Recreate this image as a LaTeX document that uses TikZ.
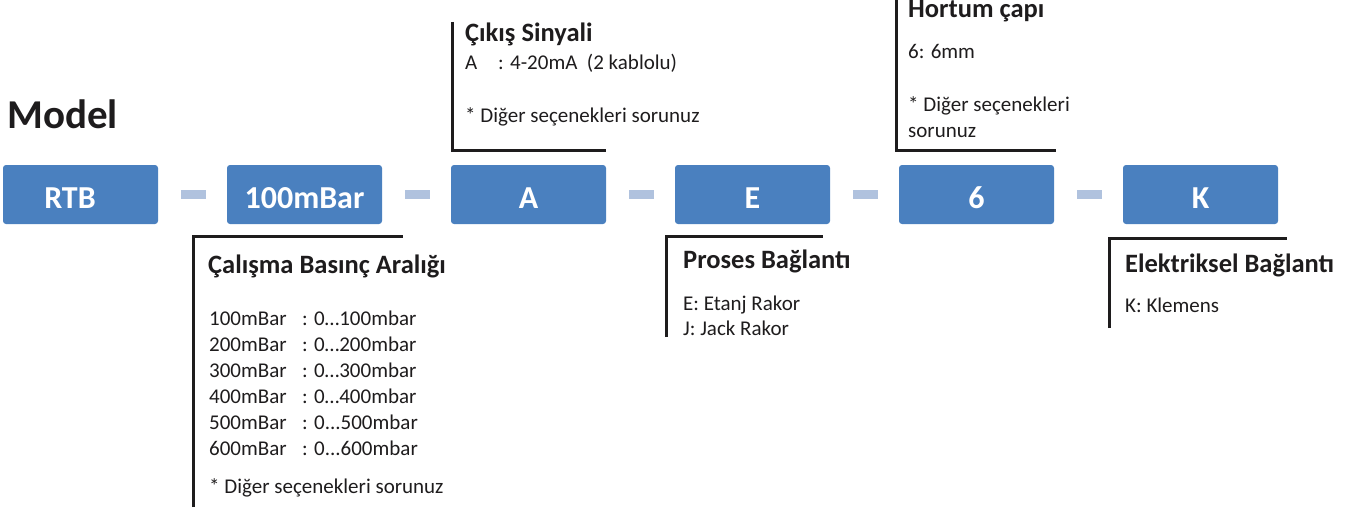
\documentclass[tikz,border=0pt]{standalone}
\usepackage{fontspec}
\setmainfont{Carlito}
\definecolor{boxblue}{RGB}{74,128,191}
\definecolor{dashblue}{RGB}{176,194,222}
\definecolor{ink}{RGB}{30,28,29}
\tikzset{
  box/.style={draw=none, fill=boxblue, rounded corners=3pt, minimum width=155pt, minimum height=59pt, inner sep=0pt},
  boxtext/.style={text=white, font=\fontsize{32}{38}\selectfont\bfseries, inner sep=0pt, anchor=base},
  sep/.style={draw=none, fill=dashblue, minimum width=25pt, minimum height=9pt, inner sep=0pt},
  head/.style={text=ink, font=\fontsize{26.5}{32}\selectfont\bfseries, inner sep=0pt, anchor=base west},
  body/.style={text=ink, font=\fontsize{21}{26}\selectfont, inner sep=0pt, anchor=base west},
  bracket/.style={draw=ink, line width=3pt, line join=miter},
}
\begin{document}
\begin{tikzpicture}[x=1pt,y=-1pt]
\useasboundingbox (0,0) rectangle (1362,511);

% title
\node[text=ink, font=\fontsize{41}{49}\selectfont\bfseries, inner sep=0pt, anchor=base west] (model) at (7,128) {Model};

% boxes
\foreach \i/\x in {1/80.5,2/304.5,3/528.5,4/752.5,5/976.5,6/1200.5}
  \node[box] (b\i) at (\x,194.5) {};
\node[boxtext] (t1) at (70,208) {RTB};
\node[boxtext] (t2) at (304.5,208) {100mBar};
\node[boxtext] (t3) at (528.5,208) {A};
\node[boxtext] (t4) at (752.5,208) {E};
\node[boxtext] (t5) at (976.5,208) {6};
\node[boxtext] (t6) at (1200.5,208) {K};

% separators
\foreach \i/\x in {1/193.5,2/417.5,3/641.5,4/865.5,5/1089.5}
  \node[sep] (d\i) at (\x,194.5) {};

% brackets
\draw[bracket] (452,22) -- (452,150) -- (606,150);
\draw[bracket] (896,-3) -- (896,150) -- (1056,150);
\draw[bracket] (193,507) -- (193,236) -- (403,236);
\draw[bracket] (666,337) -- (666,236) -- (823,236);
\draw[bracket] (1109,328) -- (1109,238) -- (1287,238);

% Çıkış Sinyali
\node[head] (h1) at (465,42) {Çıkış Sinyali};
\node[body] (h1a) at (465,70) {\makebox[33pt][l]{A}: 4-20mA\ \ (2 kablolu)};
\node[body] (h1b) at (465,122) {* Diğer seçenekleri sorunuz};

% Hortum çapı
\node[head] (h2) at (908,18) {Hortum çapı};
\node[body] (h2a) at (908,59) {6: 6mm};
\node[body] (h2b) at (908,111) {* Diğer seçenekleri};
\node[body] (h2c) at (908,137) {sorunuz};

% Çalışma Basınç Aralığı
\node[head] (h3) at (208,273) {Çalışma Basınç Aralığı};
\node[body] (r1) at (209,325) {\makebox[93pt][l]{100mBar}: 0…100mbar};
\node[body] (r2) at (209,351) {\makebox[93pt][l]{200mBar}: 0…200mbar};
\node[body] (r3) at (209,377) {\makebox[93pt][l]{300mBar}: 0…300mbar};
\node[body] (r4) at (209,403) {\makebox[93pt][l]{400mBar}: 0…400mbar};
\node[body] (r5) at (209,429) {\makebox[93pt][l]{500mBar}: 0...500mbar};
\node[body] (r6) at (209,455) {\makebox[93pt][l]{600mBar}: 0...600mbar};
\node[body] (r7) at (209,493) {* Diğer seçenekleri sorunuz};

% Proses Bağlantı
\node[head] (h4) at (683,268) {Proses Bağlantı};
\node[body] (h4a) at (683,310) {E: Etanj Rakor};
\node[body] (h4b) at (683,335) {J: Jack Rakor};

% Elektriksel Bağlantı
\node[head] (h5) at (1125,272) {Elektriksel Bağlantı};
\node[body] (h5a) at (1125,312) {K: Klemens};
\end{tikzpicture}
\end{document}
